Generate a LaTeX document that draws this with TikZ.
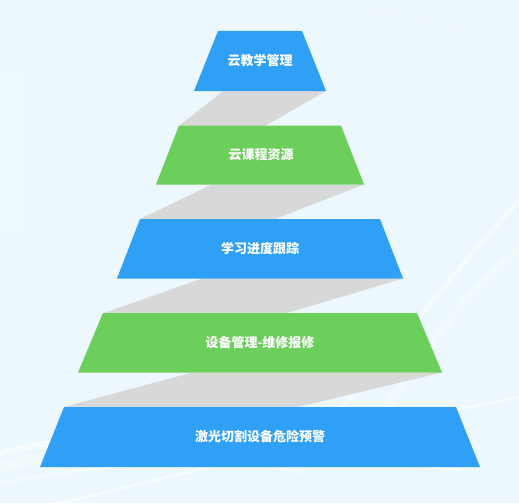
\documentclass[tikz,border=0pt]{standalone}
\usepackage{fontspec}
\newfontfamily\cjk{Noto Sans CJK SC}
\definecolor{bgblue}{RGB}{236,248,253}
\definecolor{tierblue}{RGB}{48,160,246}
\definecolor{tiergreen}{RGB}{108,206,91}
\definecolor{bandgray}{RGB}{216,216,216}
\tikzset{
  bluetier/.style={fill=tierblue, draw=none},
  greentier/.style={fill=tiergreen, draw=none},
  band/.style={fill=bandgray, draw=none},
  tierlabel/.style={text=white, font=\cjk\bfseries\fontsize{13}{15}\selectfont, inner sep=0pt},
  streak/.style={draw=white, line cap=round}
}
\begin{document}
\begin{tikzpicture}[x=1pt,y=-1pt]
\useasboundingbox (0,0) rectangle (519,503);
% background
\fill[bgblue] (0,0) rectangle (519,503);
\fill[white,opacity=0.15,rounded corners=8pt] (0,66) rectangle (26,236);
% streaks
\begin{scope}
\clip (0,0) rectangle (519,503);
\draw[streak,opacity=0.55,line width=6pt] (-10,455) .. controls (120,425) and (250,420) .. (400,440);
\draw[streak,opacity=0.45,line width=4pt] (-10,485) .. controls (150,455) and (300,450) .. (460,470);
\draw[streak,opacity=0.6,line width=3pt] (60,503) .. controls (200,470) and (350,430) .. (530,395);
\draw[streak,opacity=0.5,line width=5pt] (530,190) .. controls (470,250) and (420,320) .. (340,410);
\draw[streak,opacity=0.35,line width=8pt] (530,240) .. controls (460,300) and (420,350) .. (380,420);
\draw[streak,opacity=0.25,line width=3pt] (530,60) .. controls (480,30) and (420,15) .. (330,5);
\draw[streak,opacity=0.3,line width=10pt] (-10,470) .. controls (100,440) and (200,445) .. (300,470);
\end{scope}
% gray bands
\fill[band] (223,91) -- (326,91) -- (265,126) -- (179,126) -- cycle;
\fill[band] (212,184.5) -- (364,184.5) -- (275,219) -- (140,219) -- cycle;
\fill[band] (202,278.5) -- (403,278.5) -- (287,313) -- (104,313) -- cycle;
\fill[band] (192,372.5) -- (442,372.5) -- (298,407) -- (64,407) -- cycle;
% tiers
\fill[bluetier]  (218,31)  -- (302,31)  -- (326,91)  -- (194,91)  -- cycle;
\fill[greentier] (179,125.5) -- (341,125.5) -- (364,184.5) -- (156,184.5) -- cycle;
\fill[bluetier]  (140,219) -- (380,219) -- (403,278.5) -- (117,278.5) -- cycle;
\fill[greentier] (103,313) -- (417,313) -- (442,372.5) -- (78,372.5) -- cycle;
\fill[bluetier]  (64,407)  -- (456,407) -- (480,467) -- (40,467) -- cycle;
% labels
\node[tierlabel] (t1) at (260,61) {云教学管理};
\node[tierlabel] (t2) at (261,155) {云课程资源};
\node[tierlabel] (t3) at (260,249) {学习进度跟踪};
\node[tierlabel] (t4) at (260,343) {设备管理-维修报修};
\node[tierlabel] (t5) at (260,437) {激光切割设备危险预警};
\end{tikzpicture}
\end{document}
